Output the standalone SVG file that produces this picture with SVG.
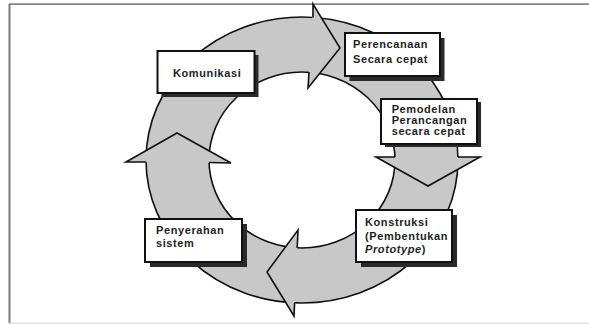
<svg xmlns="http://www.w3.org/2000/svg" width="589" height="324" viewBox="0 0 589 324">
<style>
.band{fill:#c8c8c8;stroke:#111;stroke-width:1.6;fill-rule:evenodd}
.hf{fill:#c8c8c8;stroke:none}
.hs{fill:none;stroke:#111;stroke-width:1.6;stroke-linejoin:miter}
.box{fill:#fff;stroke:#111;stroke-width:2}
.sh{fill:#2a2a2a}
.t{font-family:"Liberation Sans",Arial,sans-serif;font-size:11px;font-weight:bold;fill:#1e1e1e;letter-spacing:0.6px}
</style>
<rect width="589" height="324" fill="#fff"/>
<line x1="9" y1="4.2" x2="589" y2="4.2" stroke="#858585" stroke-width="1.7"/>
<line x1="9.5" y1="4" x2="9.5" y2="323" stroke="#7a7a7a" stroke-width="2"/>
<line x1="9" y1="323.3" x2="589" y2="323.3" stroke="#dcdcdc" stroke-width="1.2"/>
<g id="connectors">
<path class="band" d="M146,160 A156,143 0 1 0 458,160 A156,143 0 1 0 146,160 Z M209,160 A93,88 0 1 0 395,160 A93,88 0 1 0 209,160 Z"/>
<polygon class="hf" points="313,4 340,48 308,88"/>
<polyline class="hs" points="313,17.4 313,4 340,48 308,88 309,72"/>
<polygon class="hf" points="376,157 428,186 480,157"/>
<polyline class="hs" points="395,157 376,157 428,186 480,157 458,157"/>
<polygon class="hf" points="298,230 267,272 294,316"/>
<polyline class="hs" points="297.2,248 298,230 267,272 294,316 294.6,302.8"/>
<polygon class="hf" points="126,162 177,133 231,163"/>
<polyline class="hs" points="146,162 126,162 177,133 231,163 209,162.5"/>
</g>
<g id="komunikasi">
<rect class="sh" x="161.5" y="55" width="97" height="42"/>
<rect class="box" x="157.5" y="51" width="97" height="42"/>
<text class="t" x="173" y="77">Komunikasi</text>
</g>
<g id="perencanaan">
<rect class="sh" x="349.5" y="38" width="95" height="43"/>
<rect class="box" x="345" y="33" width="95" height="43"/>
<text class="t" x="353" y="48.3">Perencanaan</text>
<text class="t" x="353" y="62.6">Secara cepat</text>
</g>
<g id="pemodelan">
<rect class="sh" x="385" y="102" width="96" height="45"/>
<rect class="box" x="381" y="99" width="96" height="45"/>
<text class="t" x="391.7" y="113.3">Pemodelan</text>
<text class="t" x="391.7" y="124">Perancangan</text>
<text class="t" x="391.7" y="134.5">secara cepat</text>
</g>
<g id="konstruksi">
<rect class="sh" x="361" y="215" width="96" height="52"/>
<rect class="box" x="356" y="210" width="96" height="52"/>
<text class="t" x="365" y="225.7">Konstruksi</text>
<text class="t" x="365" y="240">(Pembentukan</text>
<text class="t" x="365" y="253.3"><tspan font-style="italic">Prototype</tspan>)</text>
</g>
<g id="penyerahan">
<rect class="sh" x="150" y="224" width="97" height="43"/>
<rect class="box" x="145" y="219" width="97" height="43"/>
<text class="t" x="156" y="234">Penyerahan</text>
<text class="t" x="156" y="247.3">sistem</text>
</g>
</svg>
